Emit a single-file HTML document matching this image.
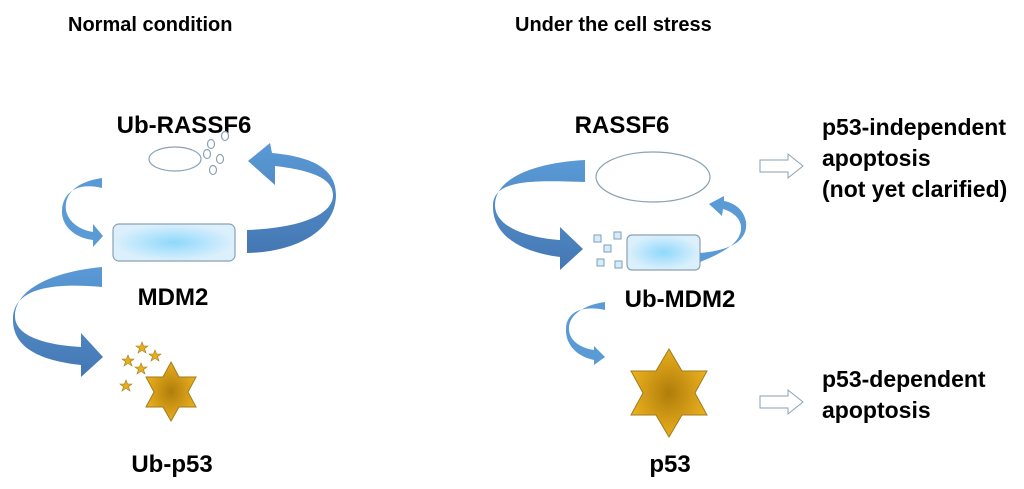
<!DOCTYPE html>
<html><head><meta charset="utf-8"><style>
html,body{margin:0;padding:0;background:#fff;}
svg{display:block;}
text{font-family:"Liberation Sans",sans-serif;font-weight:bold;fill:#000;}
</style></head><body>
<svg width="1024" height="489" viewBox="0 0 1024 489" xmlns="http://www.w3.org/2000/svg">
<defs>
<radialGradient id="rg" cx="50%" cy="50%" r="50%"><stop offset="0" stop-color="#8fd8fb"/><stop offset="1" stop-color="#dcf0fc"/></radialGradient>
<radialGradient id="sg" cx="50%" cy="50%" r="50%"><stop offset="0" stop-color="#b07d0a"/><stop offset="1" stop-color="#e8ad1e"/></radialGradient>
<linearGradient id="ag" x1="0" y1="0" x2="0" y2="1"><stop offset="0" stop-color="#5a9ad6"/><stop offset="1" stop-color="#4477b3"/></linearGradient>
</defs>

<text x="68" y="31" font-size="20">Normal condition</text>
<text x="515" y="31" font-size="20">Under the cell stress</text>

<!-- Left panel -->
<text x="184" y="133" font-size="24" text-anchor="middle">Ub-RASSF6</text>
<ellipse cx="175" cy="159" rx="26" ry="12" fill="#fff" stroke="#8aa1b3" stroke-width="1.2"/>
<g fill="#fff" stroke="#8aa1b3" stroke-width="1.2">
<ellipse cx="225" cy="136" rx="3.5" ry="4.5"/><ellipse cx="211" cy="144" rx="3.5" ry="4.5"/>
<ellipse cx="207" cy="154" rx="3.5" ry="4.5"/><ellipse cx="220" cy="159" rx="3.5" ry="4.5"/>
<ellipse cx="213" cy="170" rx="3.5" ry="4.5"/></g>

<path d="M247 230 C300 228 333 215 333 195 C333 178 310 170 275 166 L275 185 L248 161 L270 143 L272 153 C315 157 336 170 336 195 C336 228 300 252 247 253 Z" fill="url(#ag)"/>
<path d="M102 178 C75 182 64 195 66 210 C68 222 80 230 93 232 L93 224 L103 236 L93 247 L93 240 C75 238 61 226 62 210 C63 192 78 182 102 188 Z" fill="#5b9bd5"/>
<rect x="113" y="224" width="122" height="37" rx="6" fill="url(#rg)" stroke="#8aa1b3" stroke-width="1.2"/>
<text x="173" y="305" font-size="24" text-anchor="middle">MDM2</text>
<path d="M102 267 C50 272 16 290 15 315 C14 336 45 345 81 347 L81 333 L103 357 L81 377 L81 365 C35 360 12 345 13 318 C14 290 48 282 102 287 Z" fill="url(#ag)"/>
<polygon points="171,362 179,377 196,377 188,392 196,407 179,407 171,421 163,407 146,407 154,392 146,377 163,377" fill="url(#sg)" stroke="#a07b1a" stroke-width="1"/>
<g fill="#e8ad1e" stroke="#a07b1a" stroke-width="0.6">
<polygon points="142,342 143.6,346 148,346 144.5,348.6 146,353 142,350.3 138,353 139.5,348.6 136,346 140.4,346"/>
<polygon points="155,350 156.6,354 161,354 157.5,356.6 159,361 155,358.3 151,361 152.5,356.6 149,354 153.4,354"/>
<polygon points="128,355 129.6,359 134,359 130.5,361.6 132,366 128,363.3 124,366 125.5,361.6 122,359 126.4,359"/>
<polygon points="141,363 142.6,367 147,367 143.5,369.6 145,374 141,371.3 137,374 138.5,369.6 135,367 139.4,367"/>
<polygon points="126,380 127.6,384 132,384 128.5,386.6 130,391 126,388.3 122,391 123.5,386.6 120,384 124.4,384"/>
</g>
<text x="172" y="472" font-size="24" text-anchor="middle">Ub-p53</text>

<!-- Right panel -->
<text x="622" y="133" font-size="24" text-anchor="middle">RASSF6</text>
<ellipse cx="653" cy="177" rx="57" ry="25" fill="#fff" stroke="#8aa1b3" stroke-width="1.2"/>
<path d="M585 160 C530 163 495 180 495 205 C495 228 530 238 560 240 L560 227 L583 249 L560 270 L560 257 C520 252 492 235 493 205 C494 180 530 180 585 182 Z" fill="url(#ag)"/>
<g fill="#d6ecfa" stroke="#7e9fb5" stroke-width="1">
<rect x="594" y="235" width="7" height="7"/><rect x="614" y="232" width="7" height="7"/>
<rect x="604" y="245" width="7" height="7"/><rect x="597" y="259" width="7" height="7"/>
<rect x="615" y="261" width="7" height="7"/></g>
<rect x="627" y="235" width="73" height="35" rx="5" fill="url(#rg)" stroke="#8aa1b3" stroke-width="1.2"/>
<path d="M700 253 C735 250 748 238 746 222 C744 210 735 203 724 201 L724 196 L709 204 L722 216 L723 209 C733 212 740 218 741 226 C742 240 730 250 700 262 Z" fill="#5b9bd5"/>
<text x="680" y="307" font-size="24" text-anchor="middle">Ub-MDM2</text>
<path d="M605 302 C583 305 570 315 569 327 C568 340 580 348 594 350 L594 346 L605 357 L594 365 L594 360 C575 356 565 343 566 328 C567 312 582 305 605 310 Z" fill="#5b9bd5"/>
<polygon points="669,349 682,371 707,371 695,393 707,415 682,415 669,437 656,415 631,415 643,393 631,371 656,371" fill="url(#sg)" stroke="#a07b1a" stroke-width="1"/>
<text x="670" y="472" font-size="24" text-anchor="middle">p53</text>

<polygon points="760,160 788,160 788,154 803,166 788,178 788,172 760,172" fill="#fff" stroke="#8aa1b3" stroke-width="1"/>
<polygon points="760,396 788,396 788,390 803,402 788,414 788,408 760,408" fill="#fff" stroke="#8aa1b3" stroke-width="1"/>

<text x="822" y="135" font-size="23">p53-independent</text>
<text x="822" y="166" font-size="23">apoptosis</text>
<text x="822" y="197" font-size="23">(not yet clarified)</text>
<text x="822" y="387" font-size="23">p53-dependent</text>
<text x="822" y="418" font-size="23">apoptosis</text>
</svg>
</body></html>
